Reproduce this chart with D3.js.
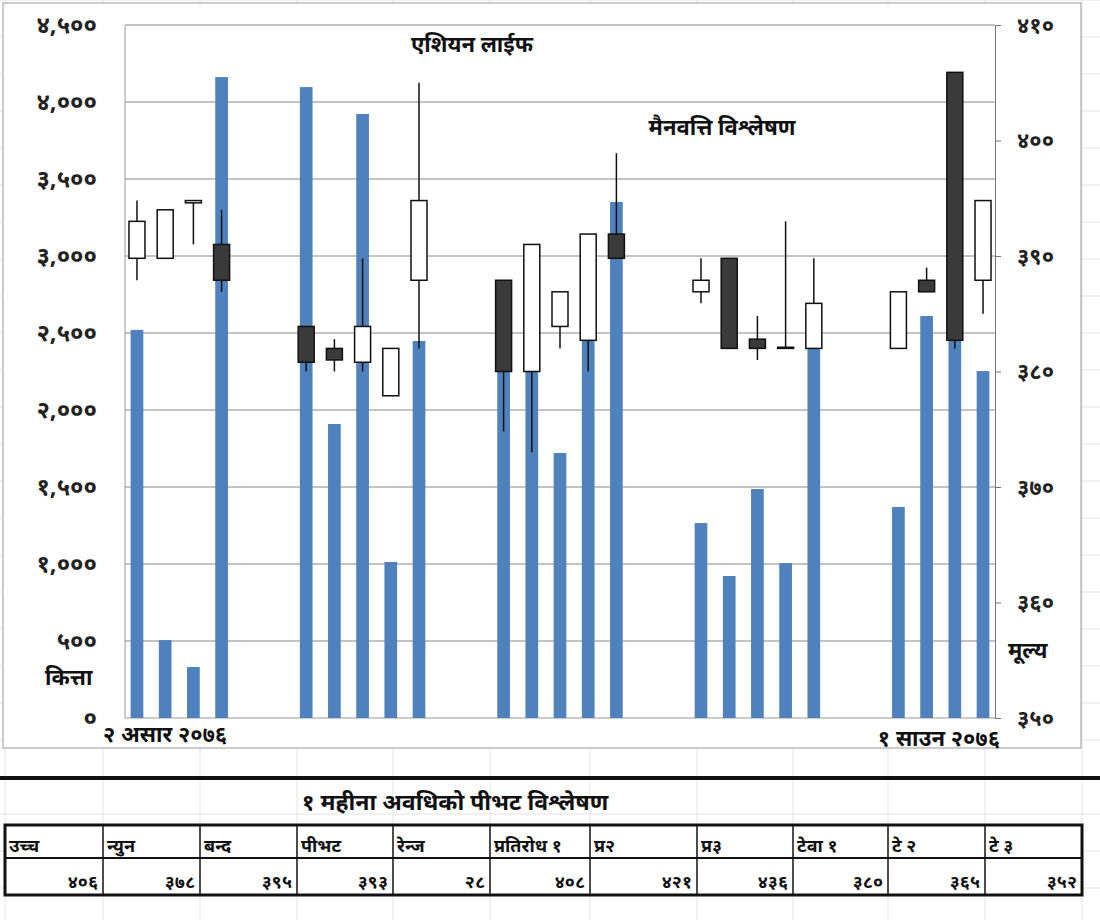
<!DOCTYPE html>
<html><head><meta charset="utf-8">
<script src="https://cdn.jsdelivr.net/npm/d3@7"></script>
<style>body{margin:0;background:#fff}text{font-family:"Noto Sans","Noto Sans Devanagari","Lohit Devanagari",sans-serif}</style>
</head><body><svg id="c" width="1100" height="920"></svg>
<script>
// day slot index (0..30) of each trading day
var days = [0,1,2,3,6,7,8,9,10,13,14,15,16,17,20,21,22,23,24,27,28,29,30];
var volume = [2520,506,331,4162,4097,1909,3922,1013,2448,2250,2250,1721,2450,3351,1266,922,1487,1006,2403,1370,2610,2500,2253];
var open  = [389.8,389.8,394.6,391,383.9,382,380.8,377.9,387.9,387.9,380,383.9,382.7,391.9,386.9,389.8,382.8,382,382,382,387.9,405.9,387.9];
var close = [393,394,394.8,387.9,380.8,381,383.9,382,394.8,380,391,386.9,391.9,389.8,387.9,382,382,382.1,385.9,386.9,386.9,382.7,394.8];
var high  = [394.8,394,394.8,394,383.9,382.8,389.8,382,405,387.9,391,386.9,391.9,398.9,389.8,389.8,384.8,393,389.8,386.9,389,405.9,394.8];
var low   = [387.9,389.8,391,386.9,380,380,380,377.9,382,374.8,373,382,380,389.8,385.9,382,381,382,382,382,386.9,382,385];
var volTicks = [0,500,1000,1500,2000,2500,3000,3500,4000,4500];
var priceTicks = [350,360,370,380,390,400,410];
var tableHead = ["उच्च","न्युन","बन्द","पीभट","रेन्ज","प्रतिरोध १","प्र२","प्र३","टेवा १","टे २","टे ३"];
var tableVals = [406,378,395,393,28,408,421,436,380,365,352];

var dev = function(n){ return d3.format(",")(n).replace(/[0-9]/g, function(c){ return "०१२३४५६७८९"[+c]; }); };
var svg = d3.select("#c");

// spreadsheet cell grid in the background
var cols = [5,103,200,297,393,490,590,697,793,888,985,1082];
svg.append("g").selectAll("line").data(cols).enter().append("line")
    .attr("x1", function(d){return d;}).attr("x2", function(d){return d;})
    .attr("y1", 0).attr("y2", 920).attr("stroke", "#e3e3e3");
svg.append("g").selectAll("line").data(d3.range(0, 920, 37)).enter().append("line")
    .attr("y1", function(d){return d;}).attr("y2", function(d){return d;})
    .attr("x1", 0).attr("x2", 1100).attr("stroke", "#e3e3e3");
svg.append("rect").attr("x", 3).attr("y", 3).attr("width", 1078).attr("height", 745)
    .attr("fill", "#fff").attr("stroke", "#999");

var x = d3.scaleBand().domain(d3.range(31)).range([125, 995]).paddingInner(0.55).paddingOuter(0.2);
var y = d3.scaleLinear().domain([0, 4500]).range([718, 25]);
var yp = d3.scaleLinear().domain([350, 410]).range([718, 25]);

svg.append("g").selectAll("line").data(volTicks.slice(1)).enter().append("line")
    .attr("x1", 125).attr("x2", 995)
    .attr("y1", function(d){return y(d);}).attr("y2", function(d){return y(d);})
    .attr("stroke", "#888");

var la = svg.append("g").attr("transform", "translate(125,0)")
    .call(d3.axisLeft(y).tickValues(volTicks).tickFormat(dev).tickSize(0).tickPadding(28));
la.select(".domain").remove();
la.selectAll("text").attr("font-size", 24).attr("font-weight", "bold").attr("fill", "#222");
var ra = svg.append("g").attr("transform", "translate(995,0)")
    .call(d3.axisRight(yp).tickValues(priceTicks).tickFormat(dev).tickSize(6).tickPadding(16));
ra.selectAll("path,line").attr("stroke", "#777");
ra.selectAll("text").attr("font-size", 22).attr("font-weight", "bold").attr("fill", "#222");
svg.append("line").attr("x1", 125).attr("x2", 125).attr("y1", 25).attr("y2", 718).attr("stroke", "#999");
svg.append("line").attr("x1", 125).attr("x2", 995).attr("y1", 718).attr("stroke", "#999").attr("y2", 718);

var bw = x.bandwidth();
svg.append("g").selectAll("rect").data(volume).enter().append("rect")
    .attr("x", function(d, i){return x(days[i]);})
    .attr("y", function(d){return y(d);})
    .attr("width", bw).attr("height", function(d){return 718 - y(d);})
    .attr("fill", "#4f81bd");

var cg = svg.append("g").selectAll("g").data(days).enter().append("g");
cg.append("line")
    .attr("x1", function(d){return x(d) + bw/2;}).attr("x2", function(d){return x(d) + bw/2;})
    .attr("y1", function(d, i){return yp(high[i]);}).attr("y2", function(d, i){return yp(low[i]);})
    .attr("stroke", "#111").attr("stroke-width", 1.5);
cg.append("rect")
    .attr("x", function(d){return x(d) + bw/2 - 8;}).attr("width", 16)
    .attr("y", function(d, i){return yp(Math.max(open[i], close[i]));})
    .attr("height", function(d, i){return Math.max(1, Math.abs(yp(open[i]) - yp(close[i])));})
    .attr("fill", function(d, i){return close[i] >= open[i] ? "#fff" : "#3a3a3a";})
    .attr("stroke", "#111").attr("stroke-width", 1.5);

var lab = function(t, xx, yy, fs, anchor){
    svg.append("text").attr("x", xx).attr("y", yy).attr("font-size", fs).attr("font-weight", "bold")
        .attr("text-anchor", anchor || "start").attr("fill", "#111").text(t);
};
lab("एशियन लाईफ", 472, 52, 22, "middle");
lab("मैनवत्ति विश्लेषण", 722, 135, 22, "middle");
lab("कित्ता", 45, 685, 22);
lab("मूल्य", 1008, 658, 22);
lab("२ असार २०७६", 103, 742, 22);
lab("१ साउन २०७६", 1000, 746, 22, "end");

svg.append("line").attr("x1", 0).attr("x2", 1100).attr("y1", 778).attr("y2", 778).attr("stroke", "#111").attr("stroke-width", 4);
lab("१ महीना अवधिको पीभट विश्लेषण", 455, 810, 23, "middle");

var tb = svg.append("g");
tb.append("rect").attr("x", 5).attr("y", 825).attr("width", 1077).attr("height", 70).attr("fill", "#fff").attr("stroke", "#111").attr("stroke-width", 3);
tb.append("line").attr("x1", 5).attr("x2", 1082).attr("y1", 858).attr("y2", 858).attr("stroke", "#111").attr("stroke-width", 2);
tb.selectAll(".v").data(cols.slice(1, -1)).enter().append("line")
    .attr("x1", function(d){return d;}).attr("x2", function(d){return d;})
    .attr("y1", 825).attr("y2", 895).attr("stroke", "#111").attr("stroke-width", 1.5);
tableHead.forEach(function(h, i){ lab(h, cols[i] + 4, 852, 18); });
tableVals.forEach(function(v, i){ lab(dev(v), cols[i + 1] - 5, 888, 18, "end"); });
</script></body></html>
